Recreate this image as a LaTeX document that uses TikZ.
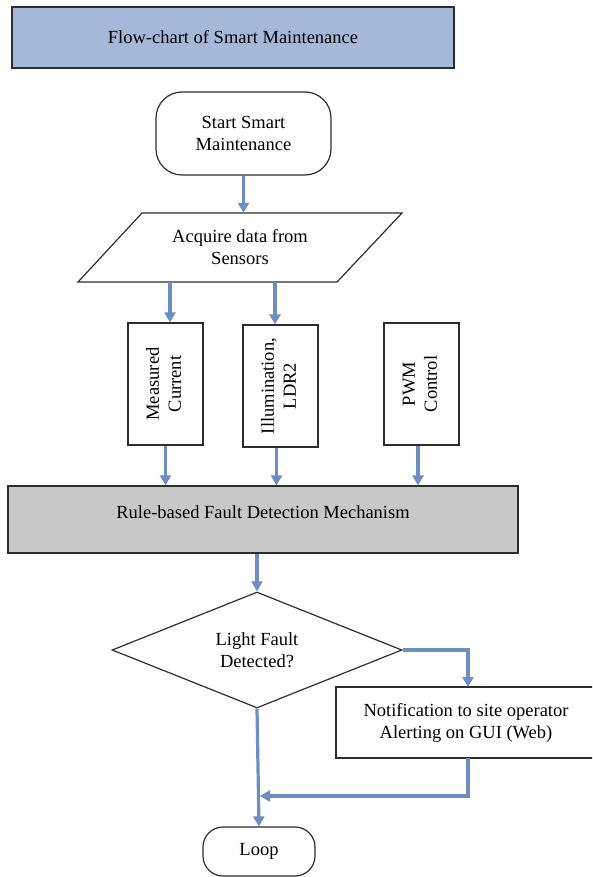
\documentclass[tikz,border=0pt]{standalone}
\usepackage{fontspec}
\setmainfont{Liberation Serif}
\usetikzlibrary{arrows.meta,shapes.geometric,calc}
\definecolor{flowblue}{RGB}{108,142,194}
\definecolor{titlefill}{RGB}{164,185,218}
\definecolor{rulefill}{RGB}{200,200,200}
\definecolor{edgegray}{RGB}{45,45,45}

\begin{document}
\begin{tikzpicture}[x=1pt,y=-1pt,
  txt/.style={align=center, font=\fontsize{18.5}{22}\selectfont},
  box/.style={txt, draw=edgegray, line width=1.2pt, rectangle, inner sep=0pt},
  terminal/.style={box, rounded corners=26pt},
  flow/.style={draw=flowblue, line width=3.2pt, -{Triangle[width=11pt,length=10pt]}}
]
\useasboundingbox (0,0) rectangle (592,877);
\clip (0,0) rectangle (592,877);

% title banner
\node[box, fill=titlefill, minimum width=442pt, minimum height=61pt] (title) at (233,37.5)
  {Flow-chart of Smart Maintenance};

% start terminal
\node[terminal, minimum width=175pt, minimum height=83pt] (start) at (243.5,133.5)
  {Start Smart\\Maintenance};

% input parallelogram
\coordinate (p1) at (142,213);
\coordinate (p2) at (402,213);
\coordinate (p3) at (337,282);
\coordinate (p4) at (78,282);
\draw[draw=edgegray, line width=1.2pt] (p1) -- (p2) -- (p3) -- (p4) -- cycle;
\node[txt, minimum width=195pt, minimum height=69pt, inner sep=0pt] (acq) at (240,247.5)
  {Acquire data from\\Sensors};

% sensor inputs
\node[box, minimum width=75pt, minimum height=122pt] (meas) at (165.5,384)
  {\rotatebox{90}{\begin{tabular}{@{}c@{}}Measured\\Current\end{tabular}}};
\node[box, minimum width=75pt, minimum height=122pt] (illum) at (280.5,386)
  {\rotatebox{90}{\begin{tabular}{@{}c@{}}Illumination,\\LDR2\end{tabular}}};
\node[box, minimum width=75pt, minimum height=122pt] (pwm) at (421.5,384)
  {\rotatebox{90}{\begin{tabular}{@{}c@{}}PWM\\Control\end{tabular}}};

% fault detection block
\node[box, fill=rulefill, minimum width=510pt, minimum height=67pt] (rule) at (263,519.5) {};
\node[txt] (ruletext) at ([yshift=7.5pt]rule.center) {Rule-based Fault Detection Mechanism};

% decision
\node[draw=edgegray, line width=1.2pt, diamond, aspect=2.5, inner sep=0pt,
      minimum width=290pt, minimum height=116pt, txt] (dia) at (257,650)
  {Light Fault\\Detected?};

% notification (runs off the right edge of the page)
\node[box, minimum width=284pt, minimum height=71pt] (notif) at (478,722.5) {};
\node[txt] (notiftext) at (466,722.5)
  {Notification to site operator\\Alerting on GUI (Web)};
\coordinate (ntop) at (468,687);
\coordinate (nbot) at (468,758);

% end terminal
\node[terminal, rounded corners=20pt, minimum width=112pt, minimum height=49pt] (loop) at (259,851.5)
  {Loop};

% connectors
\coordinate (s1) at (170,282);
\coordinate (s2) at (275,282);
\coordinate (join) at (260,796);

\draw[flow] (start.south) -- (start.south |- acq.north);
\draw[flow] (s1) -- (s1 |- meas.north);
\draw[flow] (s2) -- (s2 |- illum.north);
\draw[flow] (meas.south) -- (meas.south |- rule.north);
\draw[flow] ([xshift=-4pt]illum.south) -- ([xshift=-4pt]illum.south |- rule.north);
\draw[flow] ([xshift=-3.5pt]pwm.south) -- ([xshift=-3.5pt]pwm.south |- rule.north);
\draw[flow] (rule.south -| dia.north) -- (dia.north);
\draw[flow] (dia.east) -| (ntop);
\draw[flow] (nbot) |- (join);
\draw[flow] (dia.south) -- (loop.north);
\end{tikzpicture}
\end{document}
